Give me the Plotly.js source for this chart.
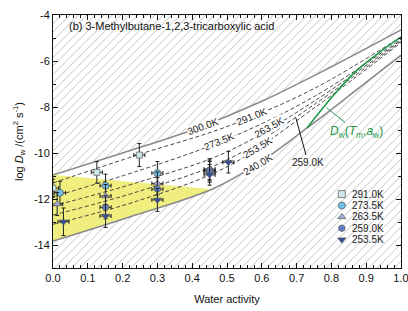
<!DOCTYPE html>
<html><head><meta charset="utf-8">
<script src="https://cdn.plot.ly/plotly-3.0.1.min.js"></script>
<style>html,body{margin:0;padding:0;background:#fff}#plot{width:408px;height:311px}</style>
</head><body><div id="plot"></div>
<script>
// ---- data ----
const aw300 = [0, 0.2, 0.4, 0.6, 0.8, 1.0];
const ld300 = [-10.96, -10.0, -9.0, -7.75, -6.25, -4.65];
const aw240 = [0, 0.22, 0.46, 0.59, 0.73, 0.86, 1.0];
const ld240 = [-13.83, -12.78, -11.55, -10.45, -8.91, -7.4, -5.75];
const awDash = [0, 0.25, 0.5, 0.75, 1.0];
const ld291 = [-11.3, -10.05, -8.85, -7.2, -4.95];
const ld2735 = [-11.9, -10.75, -9.4, -7.55, -5.05];
const ld2635 = [-12.3, -11.25, -9.95, -7.75, -5.1];
const ld259 = [-12.7, -11.65, -10.3, -7.9, -5.15];
const ld2535 = [-13.1, -12.05, -10.6, -8.05, -5.2];
const awGreen = [0.73, 0.8, 0.87, 0.94, 1.0];
const ldGreen = [-8.91, -7.6, -6.45, -5.6, -4.96];
const awYellow = [0, 0.46, 0.22, 0];
const ldYellow = [-10.95, -11.58, -12.78, -13.83];

const series = ['291.0K', '273.5K', '263.5K', '259.0K', '253.5K'];
const pAw = [
  [0.0, 0.126, 0.248],
  [0.02, 0.151, 0.30, 0.45],
  [0.012, 0.151, 0.30, 0.45],
  [0.151, 0.30, 0.45],
  [0.03, 0.151, 0.30, 0.45, 0.504]
];
const pLd = [
  [-11.53, -10.84, -10.09],
  [-11.73, -11.42, -10.87, -10.76],
  [-12.22, -11.87, -11.32, -10.70],
  [-12.36, -11.57, -10.82],
  [-12.99, -12.74, -12.04, -10.95, -10.40]
];
const pErrY = [
  [0.4, 0.47, 0.5],
  [0.5, 0.5, 0.5, 0.45],
  [0.5, 0.5, 0.5, 0.45],
  [0.5, 0.5, 0.45],
  [0.6, 0.5, 0.5, 0.45, 0.47]
];
const pErrX = 0.016;
const xTicks = [0, 0.1, 0.2, 0.3, 0.4, 0.5, 0.6, 0.7, 0.8, 0.9, 1.0];
const xTickText = ['0.0','0.1','0.2','0.3','0.4','0.5','0.6','0.7','0.8','0.9','1.0'];
const yTicks = [-4, -6, -8, -10, -12, -14];
const yTickText = ['-4', '-6', '-8', '-10', '-12', '-14'];

// ---- styles ----
const symbols = ['square', 'circle', 'triangle-up', 'hexagon', 'triangle-down'];
const colors = ['#cde9ec', '#6fbfe8', '#a4acd8', '#5f80c4', '#34509e'];
const hatch = {shape: '/', size: 6, solidity: 0.12, fgcolor: '#aaaaaa', bgcolor: '#ffffff'};
const FONT = 'Arial, "Liberation Sans", sans-serif';

const traces = [];
traces.push({x: aw300, y: ld300, mode: 'lines', line: {shape: 'spline', color: 'rgba(0,0,0,0)', width: 0}, hoverinfo: 'skip', showlegend: false});
traces.push({x: [0, 1], y: [-4, -4], mode: 'lines', line: {width: 0, color: 'rgba(0,0,0,0)'}, fill: 'tonexty', fillcolor: 'rgba(0,0,0,0)', fillpattern: hatch, hoverinfo: 'skip', showlegend: false});
traces.push({x: aw240, y: ld240, mode: 'lines', line: {shape: 'spline', color: 'rgba(0,0,0,0)', width: 0}, hoverinfo: 'skip', showlegend: false});
traces.push({x: [0, 1], y: [-15, -15], mode: 'lines', line: {width: 0, color: 'rgba(0,0,0,0)'}, fill: 'tonexty', fillcolor: 'rgba(0,0,0,0)', fillpattern: hatch, hoverinfo: 'skip', showlegend: false});
traces.push({x: awYellow, y: ldYellow, mode: 'lines', fill: 'toself', fillcolor: '#f1ee80', line: {width: 0, color: 'rgba(0,0,0,0)'}, hoverinfo: 'skip', showlegend: false});
traces.push({x: aw300, y: ld300, mode: 'lines', line: {shape: 'spline', color: '#8a8a8a', width: 1.6}, showlegend: false});
traces.push({x: aw240, y: ld240, mode: 'lines', line: {shape: 'spline', color: '#8a8a8a', width: 1.6}, showlegend: false});
[ld291, ld2735, ld2635, ld259, ld2535].forEach(ys => {
  traces.push({x: awDash, y: ys, mode: 'lines', line: {shape: 'spline', color: '#333', width: 0.9, dash: '4px,2.5px'}, showlegend: false});
});
traces.push({x: awGreen, y: ldGreen, mode: 'lines', line: {shape: 'spline', color: '#1e9a48', width: 1.6}, showlegend: false});
series.forEach((name, i) => {
  traces.push({
    x: pAw[i], y: pLd[i], mode: 'markers', name: name, showlegend: false,
    marker: {symbol: symbols[i], size: i === 0 ? 6 : 7, color: colors[i], line: {color: '#555', width: 0.7}},
    error_y: {type: 'data', array: pErrY[i], color: '#222', thickness: 1, width: 2},
    error_x: {type: 'constant', value: pErrX, color: '#222', thickness: 1, width: 2}
  });
});
const legX = 0.83, legTop = 0.292, legStep = 0.045;
traces.push({
  x: series.map(() => legX), y: series.map((s, i) => legTop - i * legStep),
  xaxis: 'x2', yaxis: 'y2', mode: 'markers', showlegend: false, hoverinfo: 'skip',
  marker: {symbol: symbols, size: 7, color: colors, line: {color: '#555', width: 0.7}}
});

const annotations = [];
annotations.push({xref: 'paper', yref: 'paper', x: 0.04, y: 0.955, xanchor: 'left', yanchor: 'middle', showarrow: false,
  text: '(b) 3-Methylbutane-1,2,3-tricarboxylic acid', font: {family: FONT, size: 11, color: '#111'}});
series.forEach((s, i) => {
  annotations.push({xref: 'paper', yref: 'paper', x: legX + 0.024, y: legTop - i * legStep, xanchor: 'left', yanchor: 'middle',
    showarrow: false, text: s, font: {family: FONT, size: 10, color: '#222'}});
});
const curveLabels = [
  {t: '300.0K', x: 0.43, y: -8.85, a: -20},
  {t: '291.0K', x: 0.572, y: -8.43, a: -22},
  {t: '273.5K', x: 0.477, y: -9.48, a: -22},
  {t: '263.5K', x: 0.62, y: -8.87, a: -29},
  {t: '253.5K', x: 0.589, y: -9.78, a: -31},
  {t: '240.0K', x: 0.589, y: -10.5, a: -31}
];
curveLabels.forEach(c => {
  annotations.push({x: c.x, y: c.y, text: c.t, textangle: c.a, showarrow: false, bgcolor: 'rgba(255,255,255,0.95)', borderpad: 0,
    font: {family: FONT, size: 10, color: '#222'}});
});
annotations.push({x: 0.698, y: -8.48, text: '259.0K', showarrow: true, arrowhead: 0, arrowwidth: 1, arrowcolor: '#111',
  ax: 12, ay: 44, font: {family: FONT, size: 10, color: '#222'}});
annotations.push({x: 0.787, y: -8.04, text: '<i>D</i><sub>w</sub>(<i>T</i><sub>m</sub>,<i>a</i><sub>w</sub>)', showarrow: true, arrowhead: 0,
  arrowwidth: 1, arrowcolor: '#1e9a48', ax: 30, ay: 24, font: {family: FONT, size: 12, color: '#1e9a48'}});

const layout = {
  width: 408, height: 311,
  margin: {l: 53, r: 7, t: 15, b: 43},
  paper_bgcolor: '#fff', plot_bgcolor: '#fff',
  font: {family: FONT, size: 11, color: '#111'},
  showlegend: false,
  xaxis: {range: [0, 1], tickvals: xTicks, ticktext: xTickText, ticks: 'inside', ticklen: 5, tickcolor: '#111',
    ticklabeloverflow: 'allow',
    showline: true, linecolor: '#111', linewidth: 1, mirror: 'ticks', showgrid: false, zeroline: false,
    minor: {dtick: 0.02, tick0: 0, ticks: 'inside', ticklen: 3, tickcolor: '#111', showgrid: false},
    tickfont: {family: FONT, size: 11}, title: {text: 'Water activity', font: {family: FONT, size: 11}, standoff: 12}},
  yaxis: {range: [-15, -4], tickvals: yTicks, ticktext: yTickText, ticks: 'inside', ticklen: 5, tickcolor: '#111',
    ticklabeloverflow: 'allow',
    showline: true, linecolor: '#111', linewidth: 1, mirror: 'ticks', showgrid: false, zeroline: false,
    minor: {dtick: 1, tick0: -4, ticks: 'inside', ticklen: 3, tickcolor: '#111', showgrid: false},
    tickfont: {family: FONT, size: 11},
    title: {text: 'log <i>D</i><sub>w</sub> /(cm<sup>2</sup> s<sup>-1</sup>)', font: {family: FONT, size: 11}, standoff: 8}},
  xaxis2: {range: [0, 1], overlaying: 'x', visible: false, fixedrange: true},
  yaxis2: {range: [0, 1], overlaying: 'y', visible: false, fixedrange: true},
  annotations: annotations
};
Plotly.newPlot('plot', traces, layout, {displayModeBar: false, staticPlot: true});
</script></body></html>
